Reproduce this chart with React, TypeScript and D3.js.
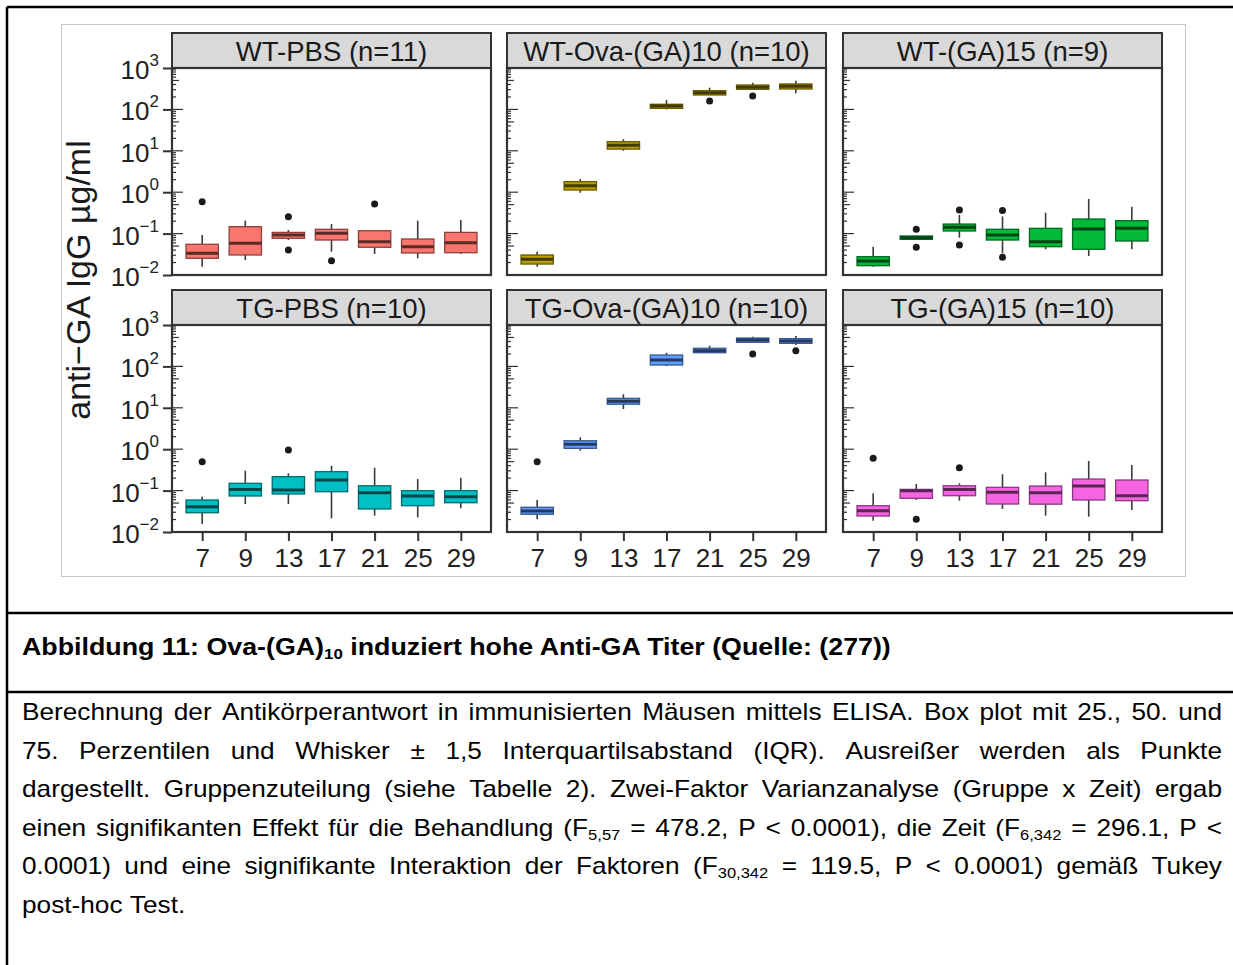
import React, { useEffect, useRef } from "react";
import * as d3 from "d3";

const days = ["7", "9", "13", "17", "21", "25", "29"];

const panelTitles = [
  "WT-PBS (n=11)",
  "WT-Ova-(GA)10 (n=10)",
  "WT-(GA)15 (n=9)",
  "TG-PBS (n=10)",
  "TG-Ova-(GA)10 (n=10)",
  "TG-(GA)15 (n=10)",
];

const panelColors = ["#F8766D", "#B79F00", "#00BA38", "#00BFC4", "#619CFF", "#F564E3"];

// per day: [lower whisker, q1, median, q3, upper whisker]
const wtPbs = [
  [0.0158, 0.0253, 0.0334, 0.0552, 0.0925],
  [0.023, 0.0304, 0.0583, 0.147, 0.205],
  [0.07, 0.0769, 0.0925, 0.107, 0.122],
  [0.0366, 0.07, 0.1016, 0.127, 0.17],
  [0.0321, 0.0467, 0.0637, 0.1175, 0.1175],
  [0.0253, 0.034, 0.0483, 0.0741, 0.205],
  [0.0321, 0.0346, 0.0603, 0.107, 0.213],
];
const wtOva = [
  [0.0158, 0.0184, 0.0239, 0.0304, 0.0366],
  [0.97, 1.13, 1.44, 1.8, 2.08],
  [10.0, 11.0, 13.6, 16.6, 19],
  [100, 106, 121, 133, 169],
  [223, 223, 253, 283, 334],
  [306, 306, 342, 388, 441],
  [245, 311, 361, 411, 493],
];
const wtGa15 = [
  [0.0158, 0.0168, 0.0218, 0.0277, 0.0483],
  [0.0728, 0.0728, 0.0796, 0.0875, 0.0875],
  [0.08, 0.1156, 0.142, 0.17, 0.281],
  [0.0334, 0.07, 0.0925, 0.127, 0.26],
  [0.0418, 0.0483, 0.0637, 0.134, 0.32],
  [0.0288, 0.0418, 0.129, 0.225, 0.685],
  [0.0418, 0.0663, 0.134, 0.205, 0.447],
];
const tgPbs = [
  [0.0156, 0.0292, 0.0408, 0.0593, 0.0713],
  [0.0474, 0.0741, 0.107, 0.15, 0.303],
  [0.0474, 0.0828, 0.1033, 0.217, 0.262],
  [0.0214, 0.094, 0.18, 0.286, 0.399],
  [0.0248, 0.036, 0.089, 0.131, 0.357],
  [0.0226, 0.0432, 0.0741, 0.0995, 0.19],
  [0.0373, 0.051, 0.0713, 0.0995, 0.205],
];
const tgOva = [
  [0.0203, 0.0268, 0.0321, 0.0395, 0.0593],
  [0.92, 1.05, 1.31, 1.6, 1.94],
  [9.35, 12.2, 14.4, 16.9, 21.2],
  [102, 108, 143, 188, 214],
  [214, 214, 239, 274, 316],
  [382, 382, 434, 485, 521],
  [329, 361, 411, 467, 542],
];
const tgGa15 = [
  [0.0187, 0.0243, 0.0327, 0.0432, 0.0861],
  [0.0593, 0.0652, 0.0995, 0.107, 0.144],
  [0.057, 0.0753, 0.107, 0.131, 0.15],
  [0.036, 0.0474, 0.091, 0.12, 0.248],
  [0.0248, 0.047, 0.089, 0.129, 0.277],
  [0.0234, 0.0593, 0.129, 0.19, 0.519],
  [0.034, 0.057, 0.0753, 0.18, 0.415],
];

// outliers: [day index, value]
const wtPbsOut = [[0, 0.59], [2, 0.256], [2, 0.04], [3, 0.0221], [4, 0.519]];
const wtOvaOut = [[4, 160], [5, 211]];
const wtGa15Out = [[1, 0.127], [1, 0.0467], [2, 0.372], [2, 0.0531], [3, 0.36], [3, 0.0268]];
const tgPbsOut = [[0, 0.499], [2, 0.957]];
const tgOvaOut = [[0, 0.499], [5, 200], [6, 239]];
const tgGa15Out = [[0, 0.603], [1, 0.0203], [2, 0.357]];

const panelStats = [wtPbs, wtOva, wtGa15, tgPbs, tgOva, tgGa15];
const panelOutliers = [wtPbsOut, wtOvaOut, wtGa15Out, tgPbsOut, tgOvaOut, tgGa15Out];

const decades = [0.01, 0.1, 1, 10, 100, 1000];
const decadeExp = ["−2", "−1", "0", "1", "2", "3"];

const yTitle = "anti−GA IgG µg/ml";

const captionTitle = ["Abbildung 11: Ova-(GA)", "10", " induziert hohe Anti-GA Titer (Quelle: (277))"];
// _{...} marks subscript text
const captionLines = [
  "Berechnung der Antikörperantwort in immunisierten Mäusen mittels ELISA. Box plot mit 25., 50. und",
  "75. Perzentilen und Whisker ± 1,5 Interquartilsabstand (IQR). Ausreißer werden als Punkte",
  "dargestellt. Gruppenzuteilung (siehe Tabelle 2). Zwei-Faktor Varianzanalyse (Gruppe x Zeit) ergab",
  "einen signifikanten Effekt für die Behandlung (F_{5,57} = 478.2, P < 0.0001), die Zeit (F_{6,342} = 296.1, P <",
  "0.0001) und eine signifikante Interaktion der Faktoren (F_{30,342} = 119.5, P < 0.0001) gemäß Tukey",
  "post-hoc Test.",
];

const W = 1233;
const H = 965;
const FONT = '"Liberation Sans", Arial, Helvetica, sans-serif';

const parseWord = (w) =>
  w
    .split(/(_\{[^}]*\})/)
    .filter((s) => s.length)
    .map((s) => (s.startsWith("_{") ? { t: s.slice(2, -1), sub: true } : { t: s, sub: false }));

const App = () => {
  const svgRef = useRef(null);

  useEffect(() => {
    const svg = d3.select(svgRef.current);
    svg.selectAll("*").remove();
    svg.attr("font-family", FONT);

    svg.append("rect").attr("width", W).attr("height", H).attr("fill", "#fff");

    // document table lines
    const lines = [
      [7, 7, W, 7],
      [7, 7, 7, H],
      [7, 613, W, 613],
      [7, 692, W, 692],
    ];
    svg
      .selectAll(".tbl")
      .data(lines)
      .join("line")
      .attr("x1", (d) => d[0])
      .attr("y1", (d) => d[1])
      .attr("x2", (d) => d[2])
      .attr("y2", (d) => d[3])
      .attr("stroke", "#000")
      .attr("stroke-width", 2.5);

    // chart image frame
    svg
      .append("rect")
      .attr("x", 61.5)
      .attr("y", 24.5)
      .attr("width", 1124)
      .attr("height", 552)
      .attr("fill", "none")
      .attr("stroke", "#c8c8c8");

    const panelW = 319;
    const panelH = 207;
    const stripH = 35;
    const colX = [172, 507, 843];
    const rowY = [68, 325];

    const x = d3.scalePoint().domain(days).range([0, panelW]).padding(0.7);
    const y = d3.scaleLog().domain([0.01, 1000]).range([panelH, 0]);
    const boxW = x.step() * 0.75;

    const logTicks = [];
    for (let e = -2; e <= 2; e++) {
      for (let k = 1; k <= 9; k++) logTicks.push({ v: k * Math.pow(10, e), k });
    }
    logTicks.push({ v: 1000, k: 1 });

    panelTitles.forEach((title, i) => {
      const col = i % 3;
      const row = Math.floor(i / 3);
      const color = panelColors[i];
      const outline = d3.color(color).darker(1.6).formatHex();
      const medColor = d3.color(color).darker(2.8).formatHex();
      const p = svg.append("g").attr("transform", `translate(${colX[col]},${rowY[row]})`);

      // strip
      p.append("rect")
        .attr("x", 0)
        .attr("y", -stripH)
        .attr("width", panelW)
        .attr("height", stripH)
        .attr("fill", "#d9d9d9")
        .attr("stroke", "#333")
        .attr("stroke-width", 2);
      p.append("text")
        .attr("x", panelW / 2)
        .attr("y", -stripH / 2 + 10)
        .attr("text-anchor", "middle")
        .attr("font-size", 27.5)
        .attr("fill", "#1a1a1a")
        .text(title);

      // log ticks
      p.selectAll(".lt")
        .data(logTicks)
        .join("line")
        .attr("x1", 0)
        .attr("x2", (d) => (d.k === 1 ? 11 : d.k === 5 ? 7 : 4))
        .attr("y1", (d) => y(d.v))
        .attr("y2", (d) => y(d.v))
        .attr("stroke", "#333")
        .attr("stroke-width", 1.2);

      const stats = panelStats[i];

      // whiskers
      p.selectAll(".wh")
        .data(stats)
        .join("g")
        .each(function (d, j) {
          const cx = x(days[j]);
          d3.select(this)
            .selectAll("line")
            .data([
              [d[4], d[3]],
              [d[1], d[0]],
            ])
            .join("line")
            .attr("x1", cx)
            .attr("x2", cx)
            .attr("y1", (s) => y(s[0]))
            .attr("y2", (s) => y(s[1]))
            .attr("stroke", "#3a3a3a")
            .attr("stroke-width", 1.6);
        });

      // boxes
      p.selectAll(".box")
        .data(stats)
        .join("rect")
        .attr("x", (d, j) => x(days[j]) - boxW / 2)
        .attr("y", (d) => y(d[3]))
        .attr("width", boxW)
        .attr("height", (d) => Math.max(2, y(d[1]) - y(d[3])))
        .attr("fill", color)
        .attr("stroke", outline)
        .attr("stroke-width", 1.3);

      // medians
      p.selectAll(".med")
        .data(stats)
        .join("line")
        .attr("x1", (d, j) => x(days[j]) - boxW / 2)
        .attr("x2", (d, j) => x(days[j]) + boxW / 2)
        .attr("y1", (d) => y(d[2]))
        .attr("y2", (d) => y(d[2]))
        .attr("stroke", medColor)
        .attr("stroke-width", 3);

      // outliers
      p.selectAll(".out")
        .data(panelOutliers[i])
        .join("circle")
        .attr("cx", (d) => x(days[d[0]]))
        .attr("cy", (d) => y(d[1]))
        .attr("r", 3.5)
        .attr("fill", "#1a1a1a");

      // panel border
      p.append("rect")
        .attr("width", panelW)
        .attr("height", panelH)
        .attr("fill", "none")
        .attr("stroke", "#333")
        .attr("stroke-width", 2.2);

      if (col === 0) {
        const ax = p
          .append("g")
          .call(d3.axisLeft(y).tickValues(decades).tickFormat(() => "").tickSize(9));
        ax.select(".domain").remove();
        ax.selectAll(".tick line").attr("stroke", "#333").attr("stroke-width", 2);

        const lab = p
          .selectAll(".ylab")
          .data(decades)
          .join("text")
          .attr("x", -13)
          .attr("y", (d) => y(d) + 11)
          .attr("text-anchor", "end")
          .attr("fill", "#222");
        lab.append("tspan").attr("font-size", 26).text("10");
        lab
          .append("tspan")
          .attr("font-size", 17)
          .attr("dy", -13)
          .text((d, j) => decadeExp[j]);
      }

      if (row === 1) {
        const ax = p
          .append("g")
          .attr("transform", `translate(0,${panelH})`)
          .call(d3.axisBottom(x).tickSize(9).tickPadding(8));
        ax.select(".domain").remove();
        ax.selectAll(".tick line").attr("stroke", "#333").attr("stroke-width", 2);
        ax.selectAll(".tick text")
          .attr("font-size", 26)
          .attr("font-family", FONT)
          .attr("fill", "#222");
      }
    });

    // y-axis title
    svg
      .append("text")
      .attr("transform", "translate(90,280) rotate(-90)")
      .attr("text-anchor", "middle")
      .attr("font-size", 34)
      .attr("fill", "#1a1a1a")
      .text(yTitle);

    // caption
    const bodySize = 23;
    const bodyStretch = 1.14;
    const titleStretch = 1.165;
    const subSize = 14.5;
    const subShift = 4;

    const title = svg
      .append("text")
      .attr("transform", `translate(22,655) scale(${titleStretch},1)`)
      .attr("font-weight", "bold")
      .attr("font-size", bodySize)
      .style("white-space", "pre");
    title.append("tspan").text(captionTitle[0]);
    title.append("tspan").attr("font-size", subSize).attr("dy", subShift).text(captionTitle[1]);
    title.append("tspan").attr("dy", -subShift).text(captionTitle[2]);

    const ctx = document.createElement("canvas").getContext("2d");
    const measure = (s, size) => {
      ctx.font = `${size}px "Liberation Sans"`;
      return ctx.measureText(s).width;
    };

    const lineLeft = 22;
    const lineRight = 1222;
    const baseline0 = 720;
    const lineGap = 38.6;
    const target = (lineRight - lineLeft) / bodyStretch;

    captionLines.forEach((line, li) => {
      const words = line.split(" ").map(parseWord);
      const widths = words.map((w) => d3.sum(w, (s) => measure(s.t, s.sub ? subSize : bodySize)));
      const justify = li < captionLines.length - 1;
      const gap = justify
        ? (target - d3.sum(widths)) / (words.length - 1)
        : measure(" ", bodySize);
      const g = svg
        .append("g")
        .attr("transform", `translate(${lineLeft},${baseline0 + li * lineGap}) scale(${bodyStretch},1)`);
      let cx = 0;
      words.forEach((w, wi) => {
        const t = g.append("text").attr("x", cx).attr("y", 0).attr("font-size", bodySize).attr("fill", "#000");
        let shift = 0;
        w.forEach((s) => {
          const next = s.sub ? subShift : 0;
          t.append("tspan")
            .attr("dy", next - shift)
            .attr("font-size", s.sub ? subSize : bodySize)
            .text(s.t);
          shift = next;
        });
        cx += widths[wi] + gap;
      });
    });
  }, []);

  return (
    <svg
      ref={svgRef}
      width={W}
      height={H}
      style={{ position: "absolute", left: 0, top: 0, display: "block" }}
    />
  );
};

export default App;
